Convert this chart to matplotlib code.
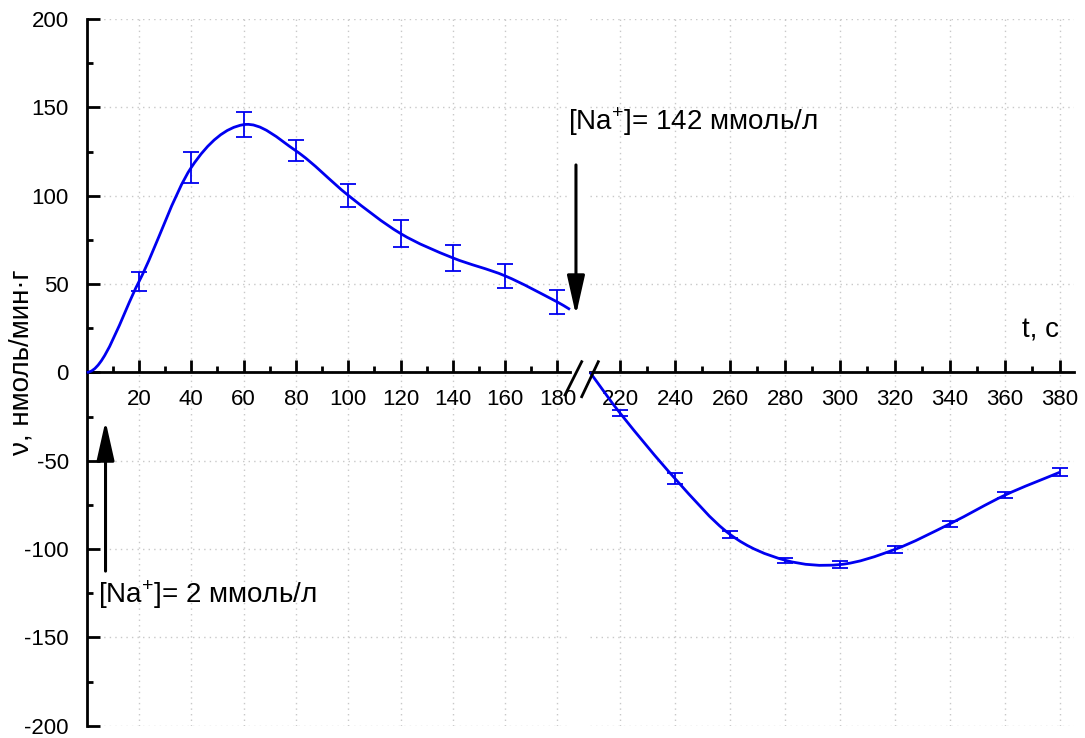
import numpy as np
import matplotlib
matplotlib.use("Agg")
import matplotlib.pyplot as plt
from matplotlib.path import Path
from matplotlib.patches import PathPatch
from matplotlib.lines import Line2D
from matplotlib.ticker import MultipleLocator, FixedLocator

plt.rcParams['font.family'] = ['Liberation Sans', 'DejaVu Sans']
plt.rcParams['mathtext.fontset'] = 'custom'
plt.rcParams['mathtext.rm'] = 'Liberation Sans'
plt.rcParams['axes.unicode_minus'] = False

# ---------------- data ----------------
t_low = [20, 40, 60, 80, 100, 120, 140, 160, 180]
v_low = [51.4, 116, 140.2, 125.4, 100.2, 78.6, 64.8, 54.6, 39.8]
e_low = [5.6, 9.0, 7.0, 6.0, 6.4, 7.4, 7.3, 6.6, 6.6]
curve_low_start = (0, 0)
curve_low_end = (184.8, 35.6)

t_high = [220, 240, 260, 280, 300, 320, 340, 360, 380]
v_high = [-23.0, -60.1, -91.7, -106.3, -108.8, -100.2, -85.7, -69.5, -56.5]
e_high = [1.9, 3.0, 1.8, 1.5, 2.1, 1.9, 1.7, 1.9, 2.3]
curve_high_start = (209.1, 0)

x_ticks_low = [20, 40, 60, 80, 100, 120, 140, 160, 180]
x_ticks_high = [220, 240, 260, 280, 300, 320, 340, 360, 380]
y_ticks = [-200, -150, -100, -50, 0, 50, 100, 150, 200]

label_high = "[Na$^{\\mathregular{+}}$]= 142 ммоль/л"
label_low = "[Na$^{\\mathregular{+}}$]= 2 ммоль/л"
ylabel = "ν, нмоль/мин·г"
xlabel = "t, с"

BLUE = '#0000f0'
W, H = 1085, 738
TICK_FS = 16
TEXT_FS = 20


def smooth_path(xs, ys, start_slope=None):
    xs = np.asarray(xs, float)
    ys = np.asarray(ys, float)
    n = len(xs)
    m = np.zeros(n)
    for i in range(n):
        if i == 0:
            m[i] = (ys[1] - ys[0]) / (xs[1] - xs[0])
        elif i == n - 1:
            m[i] = (ys[-1] - ys[-2]) / (xs[-1] - xs[-2])
        else:
            m[i] = (ys[i + 1] - ys[i - 1]) / (xs[i + 1] - xs[i - 1])
    if start_slope is not None:
        m[0] = start_slope
    verts = [(xs[0], ys[0])]
    codes = [Path.MOVETO]
    for i in range(n - 1):
        dx = xs[i + 1] - xs[i]
        verts += [(xs[i] + dx / 3, ys[i] + m[i] * dx / 3),
                  (xs[i + 1] - dx / 3, ys[i + 1] - m[i + 1] * dx / 3),
                  (xs[i + 1], ys[i + 1])]
        codes += [Path.CURVE4] * 3
    return Path(verts, codes)


fig = plt.figure(figsize=(W / 100, H / 100), dpi=100)

px_per_unit_l = 2.615
px_per_unit_r = 2.75
y_bottom = 1 - 725.7 / H
y_height = (725.7 - 19) / H

xl0 = 86.7
xlim_l = (0, 184.8)
ax1 = fig.add_axes([xl0 / W, y_bottom, (xlim_l[1] - xlim_l[0]) * px_per_unit_l / W, y_height])
xr0 = 590
xlim_r = (209.1, 385.2)
ax2 = fig.add_axes([xr0 / W, y_bottom, (xlim_r[1] - xlim_r[0]) * px_per_unit_r / W, y_height])

for ax, xlim, ticks in ((ax1, xlim_l, x_ticks_low), (ax2, xlim_r, x_ticks_high)):
    ax.set_xlim(*xlim)
    ax.set_ylim(-200, 200)
    ax.spines['top'].set_visible(False)
    ax.spines['right'].set_visible(False)
    ax.spines['bottom'].set_position(('data', 0))
    ax.spines['bottom'].set_linewidth(2.0)
    ax.spines['left'].set_linewidth(2.0)
    ax.set_xticks(ticks)
    ax.xaxis.set_minor_locator(FixedLocator([t + 10 for t in ticks[:-1]] + ([10] if ticks[0] == 20 else [])))
    ax.tick_params(axis='x', which='major', direction='in', length=9, width=2, labelsize=TICK_FS, pad=12)
    ax.tick_params(axis='x', which='minor', direction='in', length=4.5, width=2)
    ax.set_yticks(y_ticks)
    ax.yaxis.set_minor_locator(MultipleLocator(25))
    ax.tick_params(axis='y', which='major', direction='in', length=9, width=2, labelsize=TICK_FS, pad=13)
    ax.tick_params(axis='y', which='minor', direction='in', length=4.5, width=2)
    ax.grid(True, which='major', color='#c8c8c8', linestyle=(0, (1, 3)), linewidth=1.0)
    ax.set_axisbelow(True)
    ax.patch.set_visible(False)

ax2.spines['left'].set_visible(False)
ax2.tick_params(axis='y', which='both', left=False, labelleft=False)

# curves
xs_l = [curve_low_start[0]] + t_low + [curve_low_end[0]]
ys_l = [curve_low_start[1]] + v_low + [curve_low_end[1]]
p1 = PathPatch(smooth_path(xs_l, ys_l, start_slope=0), facecolor='none', edgecolor=BLUE,
               lw=2.0, clip_on=False, zorder=3)
ax1.add_patch(p1)
xs_r = [curve_high_start[0]] + t_high
ys_r = [curve_high_start[1]] + v_high
p2 = PathPatch(smooth_path(xs_r, ys_r), facecolor='none', edgecolor=BLUE,
               lw=2.0, clip_on=False, zorder=3)
ax2.add_patch(p2)

ax1.errorbar(t_low, v_low, yerr=e_low, fmt='none', ecolor=BLUE, elinewidth=1.3,
             capsize=5.5, capthick=1.3, zorder=4)
ax2.errorbar(t_high, v_high, yerr=e_high, fmt='none', ecolor=BLUE, elinewidth=1.3,
             capsize=5.5, capthick=1.3, zorder=4)

# arrows and annotations
arrow_kw = dict(arrowstyle='-|>,head_length=1.2,head_width=0.27', color='black', lw=2.2,
                mutation_scale=20, shrinkA=0, shrinkB=0)
ax1.annotate('', xy=(187.1, 32.4), xytext=(187.1, 117.4), arrowprops=arrow_kw,
             annotation_clip=False)
ax1.annotate('', xy=(7.2, -27.5), xytext=(7.2, -112.5), arrowprops=arrow_kw,
             annotation_clip=False)
ax1.text(184, 137.2, label_high, fontsize=TEXT_FS, ha='left', va='baseline', clip_on=False)
ax1.text(4.3, -130.6, label_low, fontsize=TEXT_FS, ha='left', va='baseline', clip_on=False)
ax2.text(366.3, 20, xlabel, fontsize=TEXT_FS, ha='left', va='baseline')

fig.text(22 / W, 1 - 362 / H, ylabel, rotation=90, fontsize=TEXT_FS, ha='center', va='center')

# axis break marks
def fig_line(p, q):
    fig.add_artist(Line2D([p[0] / W, q[0] / W], [1 - p[1] / H, 1 - q[1] / H],
                          transform=fig.transFigure, color='black', lw=2.0))

fig_line((565, 395), (581.7, 361.7))
fig_line((581.7, 396.7), (598.3, 361.7))

fig.savefig('out.png', dpi=100)
